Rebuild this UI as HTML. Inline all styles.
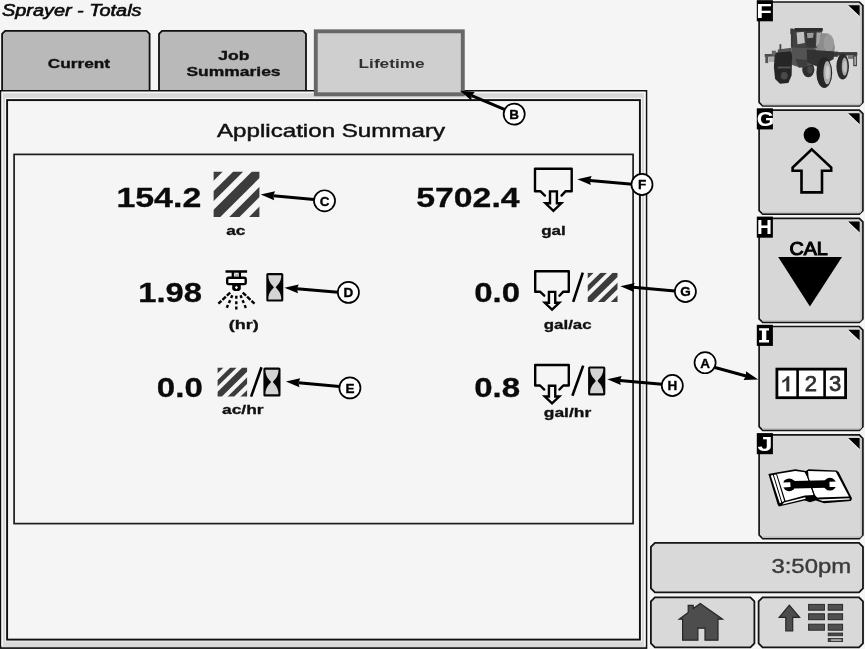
<!DOCTYPE html>
<html><head><meta charset="utf-8"><title>Sprayer - Totals</title>
<style>
html,body{margin:0;padding:0;background:#f5f5f5;overflow:hidden}
body{width:865px;height:649px;font-family:"Liberation Sans",sans-serif}
svg{display:block;position:absolute;left:0;top:0}
svg text{font-family:"Liberation Sans",sans-serif}
</style></head><body>
<svg width="865" height="649" viewBox="0 0 865 649">
<defs><filter id="idf" filterUnits="userSpaceOnUse" x="0" y="0" width="865" height="649"><feOffset dx="0" dy="0"/></filter></defs>
<rect x="0" y="0" width="865" height="649" fill="#f5f5f5"/>
<g filter="url(#idf)">
<text x="2.0" y="16.4" textLength="139.5" lengthAdjust="spacingAndGlyphs" font-size="16" font-weight="normal" font-style="italic" fill="#0c0c0c" stroke="#0c0c0c" stroke-width="0.6">Sprayer - Totals</text>
<path d="M2.1 91 L2.1 33.9 L5.1 30.9 L146.6 30.9 L149.6 33.9 L149.6 91 Z" fill="#b9b9b9" stroke="#101010" stroke-width="1.8"/>
<path d="M159 91 L159 33.9 L162 30.9 L303 30.9 L306 33.9 L306 91 Z" fill="#b9b9b9" stroke="#101010" stroke-width="1.8"/>
<text x="47.8" y="68.4" textLength="62.3" lengthAdjust="spacingAndGlyphs" font-size="13.5" font-weight="bold" font-style="normal" fill="#111" stroke="#111" stroke-width="0.35">Current</text>
<text x="218.2" y="60.4" textLength="31.2" lengthAdjust="spacingAndGlyphs" font-size="13.5" font-weight="bold" font-style="normal" fill="#111" stroke="#111" stroke-width="0.35">Job</text>
<text x="186.4" y="76.4" textLength="94.2" lengthAdjust="spacingAndGlyphs" font-size="13.5" font-weight="bold" font-style="normal" fill="#111" stroke="#111" stroke-width="0.35">Summaries</text>
<rect x="0.6" y="90.8" width="645.9" height="557.3" fill="#d9d9d9" stroke="#101010" stroke-width="1.6"/>
<path d="M2.2 646.5 V92.5 H644.8 V646.5" fill="none" stroke="#f7f7f7" stroke-width="1.5"/>
<rect x="5.6" y="98.4" width="635.8" height="542.6" fill="none" stroke="#f4f4f4" stroke-width="1.2"/>
<rect x="7.1" y="100.1" width="632.8" height="539.5" fill="#f5f5f5" stroke="#101010" stroke-width="1.9"/>
<rect x="14.1" y="154.4" width="619.0" height="369.2" fill="#f5f5f5" stroke="#1c1c1c" stroke-width="1.7"/>
<rect x="315.8" y="31.3" width="147" height="63" fill="#cfcfcf" stroke="#686868" stroke-width="3.9"/>
<text x="358.6" y="68.2" textLength="66.0" lengthAdjust="spacingAndGlyphs" font-size="12.6" font-weight="bold" font-style="normal" fill="#303030" >Lifetime</text>
<text x="217.0" y="136.8" textLength="228.0" lengthAdjust="spacingAndGlyphs" font-size="18.5" font-weight="normal" font-style="normal" fill="#111" stroke="#111" stroke-width="0.45">Application Summary</text>
<clipPath id="c213_171"><rect x="213.4" y="171.4" width="46" height="45.5"/></clipPath>
<g clip-path="url(#c213_171)" fill="#3c3c3c">
<polygon points="213.40,171.40 222.90,171.40 213.40,180.88 213.40,171.40"/>
<polygon points="233.40,171.40 243.40,171.40 213.40,201.33 213.40,191.36"/>
<polygon points="252.00,171.40 266.00,171.40 213.40,223.88 213.40,209.92"/>
<polygon points="275.00,171.40 285.20,171.40 213.40,243.04 213.40,232.86"/>
<polygon points="294.80,171.40 308.40,171.40 213.40,266.19 213.40,252.62"/>
</g>
<clipPath id="c217_367"><rect x="217.4" y="367.5" width="29.7" height="29.0"/></clipPath>
<g clip-path="url(#c217_367)" fill="#3c3c3c">
<polygon points="217.40,367.50 223.53,367.50 217.40,373.54 217.40,367.50"/>
<polygon points="230.31,367.50 236.77,367.50 217.40,386.58 217.40,380.22"/>
<polygon points="242.32,367.50 251.36,367.50 217.40,400.95 217.40,392.05"/>
<polygon points="257.17,367.50 263.76,367.50 217.40,413.16 217.40,406.68"/>
<polygon points="269.96,367.50 278.74,367.50 217.40,427.92 217.40,419.27"/>
</g>
<clipPath id="c587_272"><rect x="587.5" y="272.7" width="30.0" height="29.2"/></clipPath>
<g clip-path="url(#c587_272)" fill="#3c3c3c">
<polygon points="587.50,272.70 593.70,272.70 587.50,278.78 587.50,272.70"/>
<polygon points="600.54,272.70 607.07,272.70 587.50,291.91 587.50,285.51"/>
<polygon points="612.67,272.70 621.80,272.70 587.50,306.38 587.50,297.42"/>
<polygon points="627.67,272.70 634.33,272.70 587.50,318.68 587.50,312.15"/>
<polygon points="640.59,272.70 649.46,272.70 587.50,333.53 587.50,324.82"/>
</g>
<g fill="none" stroke="#000" stroke-width="2.4" stroke-linejoin="round" stroke-linecap="round">
<path d="M544.90 195.60 L540.30 191.20 L535.00 191.20 L535.00 168.80 L571.70 168.80 L571.70 191.20 L565.70 191.20 L561.50 195.60"/>
<path d="M550.00 191.40 L556.90 191.40 L556.90 203.30 L561.30 203.30 L553.40 210.80 L545.50 203.30 L550.00 203.30 Z" stroke-linejoin="miter"/>
</g>
<g fill="none" stroke="#000" stroke-width="2.4" stroke-linejoin="round" stroke-linecap="round">
<path d="M544.26 295.72 L540.05 291.70 L535.20 291.70 L535.20 271.20 L568.78 271.20 L568.78 291.70 L563.29 291.70 L559.45 295.72"/>
<path d="M548.93 291.88 L555.24 291.88 L555.24 302.77 L559.26 302.77 L552.04 309.63 L544.81 302.77 L548.93 302.77 Z" stroke-linejoin="miter"/>
</g>
<g fill="none" stroke="#000" stroke-width="2.4" stroke-linejoin="round" stroke-linecap="round">
<path d="M544.26 389.52 L540.05 385.50 L535.20 385.50 L535.20 365.00 L568.78 365.00 L568.78 385.50 L563.29 385.50 L559.45 389.52"/>
<path d="M548.93 385.68 L555.24 385.68 L555.24 396.57 L559.26 396.57 L552.04 403.43 L544.81 396.57 L548.93 396.57 Z" stroke-linejoin="miter"/>
</g>
<rect x="266.3" y="273.0" width="17.0" height="28.6" rx="1.6" fill="#050505"/>
<path d="M268.30 275.20 L281.30 275.20 C281.30 282.70 276.90 285.10 275.70 287.30 C276.90 289.50 281.30 291.90 281.30 299.40 L268.30 299.40 C268.30 291.90 272.70 289.50 273.90 287.30 C272.70 285.10 268.30 282.70 268.30 275.20 Z" fill="#d4d4d4"/>
<rect x="263.4" y="367.5" width="17.1" height="29.0" rx="1.6" fill="#050505"/>
<path d="M265.40 369.70 L278.50 369.70 C278.50 377.33 274.05 379.80 272.85 382.00 C274.05 384.20 278.50 386.67 278.50 394.30 L265.40 394.30 C265.40 386.67 269.85 384.20 271.05 382.00 C269.85 379.80 265.40 377.33 265.40 369.70 Z" fill="#d4d4d4"/>
<rect x="588.1" y="366.4" width="17.2" height="29.0" rx="1.6" fill="#050505"/>
<path d="M590.10 368.60 L603.30 368.60 C603.30 376.23 598.80 378.70 597.60 380.90 C598.80 383.10 603.30 385.57 603.30 393.20 L590.10 393.20 C590.10 385.57 594.60 383.10 595.80 380.90 C594.60 378.70 590.10 376.23 590.10 368.60 Z" fill="#d4d4d4"/>
<line x1="261.5" y1="367.3" x2="251.1" y2="396.6" stroke="#000" stroke-width="2.6"/>
<line x1="582.8" y1="272.6" x2="573.2" y2="301.9" stroke="#000" stroke-width="2.6"/>
<line x1="583.2" y1="365.6" x2="572.4" y2="395.7" stroke="#000" stroke-width="2.6"/>
<g stroke="#000" fill="none">
<line x1="225.5" y1="271.5" x2="247.1" y2="271.5" stroke-width="2.5"/>
<line x1="232.8" y1="272" x2="232.8" y2="277" stroke-width="2.3"/>
<line x1="239.9" y1="272" x2="239.9" y2="277" stroke-width="2.3"/>
<rect x="227.2" y="277.8" width="18.5" height="6.3" rx="1.5" stroke-width="2.4" fill="#fff"/>
<path d="M232.2 285 L240.8 285 L240.8 289.3 L239 291 L234 291 L232.2 289.3 Z" fill="#000" stroke="none"/>
<path d="M236.4 285.8 L238 287.5 L236.4 289.2 L234.8 287.5 Z" fill="#fff" stroke="none"/>
<g stroke-width="2.4">
<line x1="230.2" y1="292.6" x2="218.4" y2="303.6" stroke-dasharray="4.6 1.4"/>
<line x1="232.3" y1="295.2" x2="226.2" y2="309.2" stroke-dasharray="3.0 2.4"/>
<line x1="236.3" y1="295.8" x2="236.3" y2="310" stroke-dasharray="3.0 2.4"/>
<line x1="240.5" y1="295.2" x2="246.4" y2="309.2" stroke-dasharray="3.0 2.4"/>
<line x1="242.7" y1="292.6" x2="254.5" y2="303.6" stroke-dasharray="4.6 1.4"/>
</g></g>
<path d="M234 273.3 L239 276.3 M239 273.3 L234 276.3" stroke="#999" stroke-width="0.8"/>
<text x="116.4" y="207.3" textLength="84.9" lengthAdjust="spacingAndGlyphs" font-size="28.2" font-weight="bold" font-style="normal" fill="#0a0a0a" stroke="#0a0a0a" stroke-width="0.3">154.2</text>
<text x="138.2" y="302.0" textLength="63.8" lengthAdjust="spacingAndGlyphs" font-size="28.2" font-weight="bold" font-style="normal" fill="#0a0a0a" stroke="#0a0a0a" stroke-width="0.3">1.98</text>
<text x="156.8" y="396.8" textLength="46.0" lengthAdjust="spacingAndGlyphs" font-size="28.2" font-weight="bold" font-style="normal" fill="#0a0a0a" stroke="#0a0a0a" stroke-width="0.3">0.0</text>
<text x="416.2" y="207.4" textLength="103.4" lengthAdjust="spacingAndGlyphs" font-size="28.2" font-weight="bold" font-style="normal" fill="#0a0a0a" stroke="#0a0a0a" stroke-width="0.3">5702.4</text>
<text x="474.2" y="302.3" textLength="45.9" lengthAdjust="spacingAndGlyphs" font-size="28.2" font-weight="bold" font-style="normal" fill="#0a0a0a" stroke="#0a0a0a" stroke-width="0.3">0.0</text>
<text x="474.2" y="396.8" textLength="45.9" lengthAdjust="spacingAndGlyphs" font-size="28.2" font-weight="bold" font-style="normal" fill="#0a0a0a" stroke="#0a0a0a" stroke-width="0.3">0.8</text>
<text x="226.2" y="234.7" textLength="19.2" lengthAdjust="spacingAndGlyphs" font-size="12.5" font-weight="bold" font-style="normal" fill="#111" stroke="#111" stroke-width="0.3">ac</text>
<text x="228.8" y="328.8" textLength="30.0" lengthAdjust="spacingAndGlyphs" font-size="12.5" font-weight="bold" font-style="normal" fill="#111" stroke="#111" stroke-width="0.3">(hr)</text>
<text x="222.0" y="414.1" textLength="41.6" lengthAdjust="spacingAndGlyphs" font-size="12.5" font-weight="bold" font-style="normal" fill="#111" stroke="#111" stroke-width="0.3">ac/hr</text>
<text x="541.2" y="234.6" textLength="24.6" lengthAdjust="spacingAndGlyphs" font-size="12.5" font-weight="bold" font-style="normal" fill="#111" stroke="#111" stroke-width="0.3">gal</text>
<text x="543.8" y="329.0" textLength="47.8" lengthAdjust="spacingAndGlyphs" font-size="12.5" font-weight="bold" font-style="normal" fill="#111" stroke="#111" stroke-width="0.3">gal/ac</text>
<text x="543.8" y="416.9" textLength="47.4" lengthAdjust="spacingAndGlyphs" font-size="12.5" font-weight="bold" font-style="normal" fill="#111" stroke="#111" stroke-width="0.3">gal/hr</text>
<line x1="314.00" y1="199.40" x2="273.25" y2="195.73" stroke="#000" stroke-width="3.0"/>
<polygon points="260.70,194.60 275.05,191.37 273.25,195.73 274.24,200.34" fill="#000"/>
<line x1="338.00" y1="292.20" x2="296.96" y2="288.75" stroke="#000" stroke-width="3.0"/>
<polygon points="284.40,287.70 298.73,284.39 296.96,288.75 297.97,293.36" fill="#000"/>
<line x1="339.50" y1="386.40" x2="298.45" y2="382.72" stroke="#000" stroke-width="3.0"/>
<polygon points="285.90,381.60 300.25,378.37 298.45,382.72 299.44,387.33" fill="#000"/>
<line x1="632.50" y1="184.20" x2="589.85" y2="180.41" stroke="#000" stroke-width="3.0"/>
<polygon points="577.30,179.30 591.64,176.06 589.85,180.41 590.85,185.02" fill="#000"/>
<line x1="675.00" y1="290.90" x2="632.96" y2="287.36" stroke="#000" stroke-width="3.0"/>
<polygon points="620.40,286.30 634.73,282.99 632.96,287.36 633.97,291.96" fill="#000"/>
<line x1="662.00" y1="384.20" x2="619.85" y2="380.42" stroke="#000" stroke-width="3.0"/>
<polygon points="607.30,379.30 621.65,376.07 619.85,380.42 620.84,385.03" fill="#000"/>
<line x1="505.00" y1="109.70" x2="471.71" y2="95.69" stroke="#000" stroke-width="3.0"/>
<polygon points="460.10,90.80 474.75,92.08 471.71,95.69 471.26,100.38" fill="#000"/>
<line x1="715.00" y1="367.50" x2="746.05" y2="376.05" stroke="#000" stroke-width="3.0"/>
<polygon points="758.20,379.40 743.51,380.02 746.05,376.05 745.90,371.34" fill="#000"/>
<circle cx="324.5" cy="200.8" r="10.55" fill="#fff" stroke="#000" stroke-width="1.7"/>
<text x="324.5" y="205.7" text-anchor="middle" font-size="13.5" font-weight="bold" fill="#000" stroke="#000" stroke-width="0.35">C</text>
<circle cx="348.4" cy="292.4" r="10.55" fill="#fff" stroke="#000" stroke-width="1.7"/>
<text x="348.4" y="297.3" text-anchor="middle" font-size="13.5" font-weight="bold" fill="#000" stroke="#000" stroke-width="0.35">D</text>
<circle cx="349.9" cy="387.9" r="10.55" fill="#fff" stroke="#000" stroke-width="1.7"/>
<text x="349.9" y="392.8" text-anchor="middle" font-size="13.5" font-weight="bold" fill="#000" stroke="#000" stroke-width="0.35">E</text>
<circle cx="642.0" cy="184.5" r="10.55" fill="#fff" stroke="#000" stroke-width="1.7"/>
<text x="642.0" y="189.4" text-anchor="middle" font-size="13.5" font-weight="bold" fill="#000" stroke="#000" stroke-width="0.35">F</text>
<circle cx="685.4" cy="291.5" r="10.55" fill="#fff" stroke="#000" stroke-width="1.7"/>
<text x="685.4" y="296.4" text-anchor="middle" font-size="13.5" font-weight="bold" fill="#000" stroke="#000" stroke-width="0.35">G</text>
<circle cx="672.3" cy="385.5" r="10.55" fill="#fff" stroke="#000" stroke-width="1.7"/>
<text x="672.3" y="390.4" text-anchor="middle" font-size="13.5" font-weight="bold" fill="#000" stroke="#000" stroke-width="0.35">H</text>
<circle cx="514.2" cy="114.1" r="10.55" fill="#fff" stroke="#000" stroke-width="1.7"/>
<text x="514.2" y="119.0" text-anchor="middle" font-size="13.5" font-weight="bold" fill="#000" stroke="#000" stroke-width="0.35">B</text>
<circle cx="705.1" cy="362.7" r="10.55" fill="#fff" stroke="#000" stroke-width="1.7"/>
<text x="705.1" y="367.6" text-anchor="middle" font-size="13.5" font-weight="bold" fill="#000" stroke="#000" stroke-width="0.35">A</text>
<path d="M762.7 2.0 L859.3 2.0 L862.9 5.6 L862.9 102.4 L859.3 106.0 L762.7 106.0 L759.1 102.4 L759.1 5.6 Z" fill="#d7d7d7" stroke="#141414" stroke-width="1.7"/>
<path d="M762.5 104.4 H859.8 L861.3 102.6 V6.0" fill="none" stroke="#c2c2c2" stroke-width="1.5"/>
<polygon points="848.1,5.2 859.6,5.2 859.6,16.1" fill="#000"/>
<line x1="847.6" y1="5.5" x2="859.3" y2="16.6" stroke="#efefef" stroke-width="0.9"/>
<rect x="756.8" y="0.2" width="16.1" height="21.1" fill="#000"/>
<path d="M762.7 110.1 L859.3 110.1 L862.9 113.69999999999999 L862.9 210.6 L859.3 214.2 L762.7 214.2 L759.1 210.6 L759.1 113.69999999999999 Z" fill="#d7d7d7" stroke="#141414" stroke-width="1.7"/>
<path d="M762.5 212.6 H859.8 L861.3 210.8 V114.1" fill="none" stroke="#c2c2c2" stroke-width="1.5"/>
<polygon points="848.1,113.3 859.6,113.3 859.6,124.2" fill="#000"/>
<line x1="847.6" y1="113.6" x2="859.3" y2="124.7" stroke="#efefef" stroke-width="0.9"/>
<rect x="756.8" y="108.3" width="16.1" height="21.1" fill="#000"/>
<path d="M762.7 218.3 L859.3 218.3 L862.9 221.9 L862.9 318.79999999999995 L859.3 322.4 L762.7 322.4 L759.1 318.79999999999995 L759.1 221.9 Z" fill="#d7d7d7" stroke="#141414" stroke-width="1.7"/>
<path d="M762.5 320.8 H859.8 L861.3 319.0 V222.3" fill="none" stroke="#c2c2c2" stroke-width="1.5"/>
<polygon points="848.1,221.5 859.6,221.5 859.6,232.4" fill="#000"/>
<line x1="847.6" y1="221.8" x2="859.3" y2="232.9" stroke="#efefef" stroke-width="0.9"/>
<rect x="756.8" y="216.6" width="16.1" height="21.1" fill="#000"/>
<path d="M762.7 326.5 L859.3 326.5 L862.9 330.1 L862.9 426.7 L859.3 430.3 L762.7 430.3 L759.1 426.7 L759.1 330.1 Z" fill="#d7d7d7" stroke="#141414" stroke-width="1.7"/>
<path d="M762.5 428.7 H859.8 L861.3 426.9 V330.5" fill="none" stroke="#c2c2c2" stroke-width="1.5"/>
<polygon points="848.1,329.7 859.6,329.7 859.6,340.6" fill="#000"/>
<line x1="847.6" y1="330.0" x2="859.3" y2="341.1" stroke="#efefef" stroke-width="0.9"/>
<rect x="756.8" y="324.8" width="16.1" height="21.1" fill="#000"/>
<path d="M762.7 434.9 L859.3 434.9 L862.9 438.5 L862.9 535.0 L859.3 538.6 L762.7 538.6 L759.1 535.0 L759.1 438.5 Z" fill="#d7d7d7" stroke="#141414" stroke-width="1.7"/>
<path d="M762.5 537.0 H859.8 L861.3 535.2 V438.9" fill="none" stroke="#c2c2c2" stroke-width="1.5"/>
<polygon points="848.1,438.1 859.6,438.1 859.6,449.0" fill="#000"/>
<line x1="847.6" y1="438.4" x2="859.3" y2="449.5" stroke="#efefef" stroke-width="0.9"/>
<rect x="756.8" y="433.1" width="16.1" height="21.1" fill="#000"/>
<text x="756.3" y="17.9" textLength="15.7" lengthAdjust="spacingAndGlyphs" font-size="19.5" font-weight="bold" fill="#fff">F</text>
<text x="756.7" y="125.8" textLength="17.5" lengthAdjust="spacingAndGlyphs" font-size="20" font-weight="bold" fill="#fff">G</text>
<text x="756.9" y="234.0" textLength="14.9" lengthAdjust="spacingAndGlyphs" font-size="19.5" font-weight="bold" fill="#fff">H</text>
<text x="757.6" y="450.5" textLength="15.1" lengthAdjust="spacingAndGlyphs" font-size="19.5" font-weight="bold" fill="#fff">J</text>
<path d="M759.1 328.3 H769 V330.6 H766.3 V340.1 H769 V342.4 H759.1 V340.1 H761.9 V330.6 H759.1 Z" fill="#fff"/>
<circle cx="811.8" cy="135.1" r="8.2" fill="#000"/>
<path d="M811.8 149.4 L831.2 167.6 L831.2 170.7 L822 170.7 L822 192.4 L801.5 192.4 L801.5 170.7 L792.6 170.7 L792.6 167.6 Z" fill="none" stroke="#000" stroke-width="2.6" stroke-linejoin="miter"/>
<text x="789.4" y="255.3" textLength="38.4" lengthAdjust="spacingAndGlyphs" font-size="17.5" font-weight="normal" font-style="normal" fill="#000" stroke="#000" stroke-width="1.0">CAL</text>
<polygon points="778.2,257.0 842.0,257.0 809.9,306.6" fill="#000"/>
<rect x="776.9" y="369.1" width="68.7" height="28.6" fill="#fff" stroke="#000" stroke-width="2.8"/>
<line x1="797.6" y1="369" x2="797.6" y2="398" stroke="#000" stroke-width="2.6"/>
<line x1="824.6" y1="369" x2="824.6" y2="398" stroke="#000" stroke-width="2.6"/>
<path d="M782.3 380.6 C784.6 379.6 786.2 378.2 787.0 376.2 L789.3 376.2 L789.3 391.4 L786.3 391.4 L786.3 380.3 C785.3 381.4 784.0 382.3 782.3 383.0 Z" fill="#303030"/>
<text x="810.9" y="391.4" text-anchor="middle" font-size="22" fill="#303030" stroke="#303030" stroke-width="0.75">2</text>
<text x="835.1" y="391.4" text-anchor="middle" font-size="22" fill="#303030" stroke="#303030" stroke-width="0.75">3</text>
<polygon points="768.4,474.0 776.4,472.5 795.3,469.3 805.8,470.9 808.6,469.3 836.6,470.4 838.8,472.2 852.1,498.4 850.8,501.1 824.2,503.3 815.8,500.6 809.9,502.2 804.7,500.6 778.9,506.6 777.5,504.2" fill="#000"/>
<polygon points="770.7,475.5 776.2,474.4 784.2,501.1 779.8,503.3" fill="#fff"/>
<polygon points="777.0,474.0 795.3,470.9 804.7,472.2 807.3,477.0 813.7,494.9 804.7,495.5 785.5,500.8" fill="#fff"/>
<polygon points="808.1,471.1 835.8,471.8 848.9,496.5 817.2,497.6 814.9,494.9 808.6,477.5" fill="#fff"/>
<polygon points="784.2,502.6 805.1,497.3 805.7,498.7 782.2,504.5" fill="#fff"/>
<polygon points="818.0,499.4 849.3,498.3 849.9,499.6 822.8,501.1" fill="#fff"/>
<polyline points="773.4,475.1 781.8,502.6" fill="none" stroke="#000" stroke-width="1.0" stroke-linejoin="round" stroke-linecap="round"/>
<polyline points="805.5,471.8 807.7,477.0 814.4,495.9 816.2,498.6" fill="none" stroke="#000" stroke-width="1.0" stroke-linejoin="round" stroke-linecap="round"/>
<polygon points="793.6,480.9 826.4,480.3 826.6,487.7 794.2,488.4" fill="#000"/>
<circle cx="789.2" cy="484.8" r="6.4" fill="#000"/>
<circle cx="829.9" cy="484.2" r="6.4" fill="#000"/>
<polygon points="782.2,482.6 790.3,482.3 790.6,487.1 782.4,487.4" fill="#fff"/>
<polygon points="829.4,481.8 837.0,481.5 837.2,486.9 829.6,487.1" fill="#fff"/>
<path d="M654.9 542.9 L859.0 542.9 L863.0 546.9 L863.0 588.3 L859.0 592.3 L654.9 592.3 L650.9 588.3 L650.9 546.9 Z" fill="#d9d9d9" stroke="#141414" stroke-width="1.8"/>
<text x="771.4" y="573.2" textLength="79.8" lengthAdjust="spacingAndGlyphs" font-size="19.5" font-weight="normal" font-style="normal" fill="#3c3c3c" stroke="#3c3c3c" stroke-width="0.4">3:50pm</text>
<path d="M654.9 597.3 L750.4 597.3 L754.4 601.3 L754.4 643.3 L750.4 647.3 L654.9 647.3 L650.9 643.3 L650.9 601.3 Z" fill="#d9d9d9" stroke="#141414" stroke-width="1.8"/>
<path d="M762.6 597.3 L859.0 597.3 L863.0 601.3 L863.0 643.3 L859.0 647.3 L762.6 647.3 L758.6 643.3 L758.6 601.3 Z" fill="#d9d9d9" stroke="#141414" stroke-width="1.8"/>
<path d="M700.3 603.4 L722.6 619.2 L718 619.2 L718 640.2 L705 640.2 L705 628.2 L697.9 628.2 L697.9 640.2 L682.6 640.2 L682.6 619.2 L679.2 619.2 L688.2 612.5 L688.2 605.3 L693.2 605.3 L693.2 608.6 Z" fill="#4d4d4d" stroke="#262626" stroke-width="1.2" stroke-linejoin="miter"/>
<path d="M789.3 605.2 L799.6 617.3 L792.7 617.3 L792.7 630.8 L785.8 630.8 L785.8 617.3 L779.2 617.3 Z" fill="#4d4d4d" stroke="#262626" stroke-width="1.2"/>
<rect x="808.6" y="604.4" width="15.8" height="5.8" fill="#505050" stroke="#2a2a2a" stroke-width="1"/>
<rect x="828.2" y="604.4" width="14.4" height="5.8" fill="#505050" stroke="#2a2a2a" stroke-width="1"/>
<rect x="808.6" y="613.8" width="15.8" height="5.9" fill="#505050" stroke="#2a2a2a" stroke-width="1"/>
<rect x="828.2" y="613.8" width="14.4" height="5.9" fill="#505050" stroke="#2a2a2a" stroke-width="1"/>
<rect x="808.6" y="624.2" width="15.8" height="6.0" fill="#505050" stroke="#2a2a2a" stroke-width="1"/>
<rect x="828.2" y="624.2" width="14.4" height="6.0" fill="#505050" stroke="#2a2a2a" stroke-width="1"/>
<rect x="828.2" y="633.0" width="14.4" height="2.8" fill="#484848" stroke="#2a2a2a" stroke-width="0.8"/>
<rect x="828.2" y="638.4" width="14.4" height="3.2" fill="#484848" stroke="#2a2a2a" stroke-width="0.8"/>
<rect x="831" y="639.5" width="10.5" height="1.1" fill="#e4e4e4"/>
<filter id="sb" x="-10%" y="-10%" width="120%" height="120%"><feGaussianBlur stdDeviation="0.55"/></filter>
<g filter="url(#sb)">
<polygon points="815.4,35.3 819.0,33.0 828.4,33.6 833.1,38.9 834.9,47.1 834.3,53.6 815.4,53.6" fill="#8c8c8c"/>
<ellipse cx="828.7" cy="43.0" rx="5.0" ry="8.8" fill="#9a9a9a"/>
<rect x="832.5" y="52.1" width="24.8" height="3.5" fill="#3a3a3a" rx="0"/>
<rect x="847.9" y="55.4" width="6.5" height="3.5" fill="#777" rx="0"/>
<rect x="853.2" y="54.2" width="3.8" height="12.0" fill="#444" rx="0"/>
<rect x="854.3" y="56.6" width="1.8" height="8.3" fill="#aaa" rx="0"/>
<rect x="764.7" y="54.0" width="11.2" height="2.8" fill="#4a4a4a" rx="0"/>
<rect x="765.3" y="55.4" width="2.9" height="7.7" fill="#555" rx="0"/>
<rect x="768.8" y="56.6" width="5.3" height="5.3" fill="#aaa" rx="0"/>
<rect x="771.8" y="50.7" width="4.1" height="4.7" fill="#666" rx="0"/>
<rect x="791.2" y="51.6" width="46.6" height="5.2" fill="#3b3b3b" rx="0"/>
<ellipse cx="808.3" cy="69.5" rx="6.1" ry="7.7" fill="#2e2e2e"/>
<ellipse cx="810.1" cy="69.8" rx="2.9" ry="3.8" fill="#444"/>
<ellipse cx="842.7" cy="66.6" rx="6.3" ry="13.0" fill="#2c2c2c"/>
<ellipse cx="844.6" cy="66.6" rx="2.9" ry="9.1" fill="#a8a8a8"/>
<ellipse cx="844.9" cy="66.6" rx="1.8" ry="5.9" fill="#c4c4c4"/>
<polygon points="791.8,47.7 798.9,46.5 815.4,48.3 817.8,55.4 816.6,64.2 798.9,67.2 791.8,64.8" fill="#535353"/>
<polygon points="806.6,49.5 833.7,51.6 833.7,58.9 819.0,67.2 807.2,62.5" fill="#303030"/>
<polygon points="795.4,58.9 807.2,60.1 807.2,67.2 798.9,67.8" fill="#3c3c3c"/>
<polygon points="777.7,49.5 791.8,47.7 791.8,55.4 777.7,55.4" fill="#555"/>
<rect x="779.5" y="44.2" width="1.8" height="6.5" fill="#444" rx="0"/>
<polygon points="790.9,30.0 795.4,28.3 822.5,28.5 821.9,31.8 816.6,48.3 791.8,47.7" fill="#424242"/>
<rect x="790.4" y="28.5" width="2.6" height="5.7" fill="#333" rx="0"/>
<polygon points="796.6,32.4 803.9,31.8 804.8,43.0 797.5,44.2" fill="#c2c2c2"/>
<polygon points="805.4,31.8 815.4,31.6 815.2,47.7 806.6,47.1" fill="#353535"/>
<polygon points="806.9,33.0 813.7,32.7 813.1,37.7 807.4,38.3" fill="#9a9a9a"/>
<polygon points="816.6,32.4 821.3,32.4 819.0,43.6 816.0,47.1" fill="#a5a5a5"/>
<rect x="794.8" y="28.0" width="27.9" height="3.3" fill="#2f2f2f" rx="0"/>
<rect x="790.9" y="29.4" width="2.4" height="18.3" fill="#3a3a3a" rx="0"/>
<ellipse cx="824.3" cy="72.8" rx="7.9" ry="15.3" fill="#272727"/>
<ellipse cx="827.2" cy="72.7" rx="3.8" ry="11.6" fill="#adadad"/>
<ellipse cx="827.6" cy="72.5" rx="2.2" ry="7.1" fill="#cdcdcd"/>
<polygon points="775.9,52.4 790.9,51.6 792.1,55.4 791.6,75.4 788.3,83.1 780.0,83.7 775.1,79.0 773.9,67.2 774.4,57.7" fill="#262626"/>
<rect x="777.7" y="66.6" width="13.0" height="1.8" fill="#555" rx="0"/>
<ellipse cx="784.2" cy="75.7" rx="3.5" ry="3.8" fill="#4a4a4a"/>
</g>
</g>
</svg>
</body></html>
